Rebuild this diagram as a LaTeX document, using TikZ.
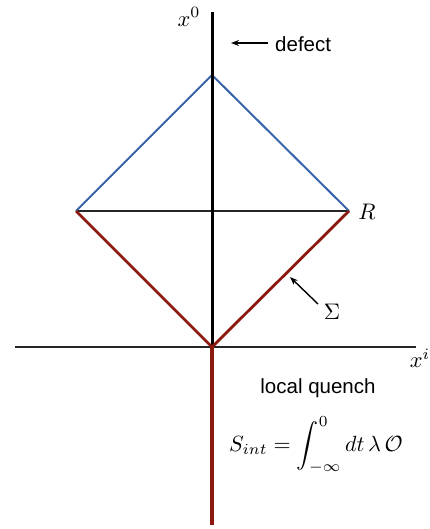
\documentclass[tikz,border=0pt]{standalone}
\usepackage{fontspec}
\usepackage{amsmath}
\newfontfamily\labelsans{Liberation Sans}
\definecolor{diamblue}{RGB}{55,100,170}
\definecolor{diamred}{RGB}{140,25,15}
\usetikzlibrary{arrows.meta}
\newcommand{\bigmath}[1]{\scalebox{2.25}{$#1$}}
\tikzset{
  axis/.style={line width=1.5pt, black!85},
  defectline/.style={line width=3pt, black},
  blueedge/.style={line width=2pt, diamblue},
  rededge/.style={line width=2.8pt, diamred},
  midline/.style={line width=1.5pt, black!85},
  pointer/.style={line width=1.4pt, -{Stealth[length=8pt,width=6pt]}},
  sanslabel/.style={font=\labelsans\fontsize{20.5}{24}\selectfont, inner sep=0pt},
  mathlabel/.style={inner sep=0pt}
}
\begin{document}
\begin{tikzpicture}[x=1pt,y=-1pt]
\useasboundingbox (0,0) rectangle (429,529);
% key points
\coordinate (top) at (212,75);
\coordinate (left) at (76,211);
\coordinate (right) at (349,211);
\coordinate (origin) at (212,347);
\coordinate (vtop) at (212,12);
\coordinate (vbot) at (212,525);
\coordinate (xleft) at (15,347);
\coordinate (xright) at (416,347);
% axes
\draw[axis] (xleft) -- (xright);
\draw[midline] (left) -- (right);
\draw[blueedge] (left) -- (top) -- (right);
\draw[rededge, line width=3.4pt] (origin) -- (vbot);
\draw[defectline] (vtop) -- (origin);
\draw[rededge, line join=miter] (left) -- (origin) -- (right);
% labels
\node[mathlabel] (x0) at (189,17) {\bigmath{x^0}};
\node[mathlabel] (xi) at (420,358) {\bigmath{x^i}};
\node[mathlabel] (R) at (367,212) {\bigmath{R}};
\node[mathlabel] (Sig) at (332,312) {\bigmath{\Sigma}};
\node[sanslabel, anchor=west] (defect) at (275,44) {defect};
\coordinate (dtail) at (268,43);
\coordinate (dtip) at (231,43);
\draw[pointer] (dtail) -- (dtip);
\coordinate (stail) at (318,304);
\coordinate (stip) at (290,277);
\draw[pointer] (stail) -- (stip);
\node[sanslabel] (lq) at (318,388) {local quench};
\node[mathlabel] (act) at (316,445) {\scalebox{2.2}{$\displaystyle S_{int}=\int_{-\infty}^{0}dt\,\lambda\,\mathcal{O}$}};
\end{tikzpicture}
\end{document}
